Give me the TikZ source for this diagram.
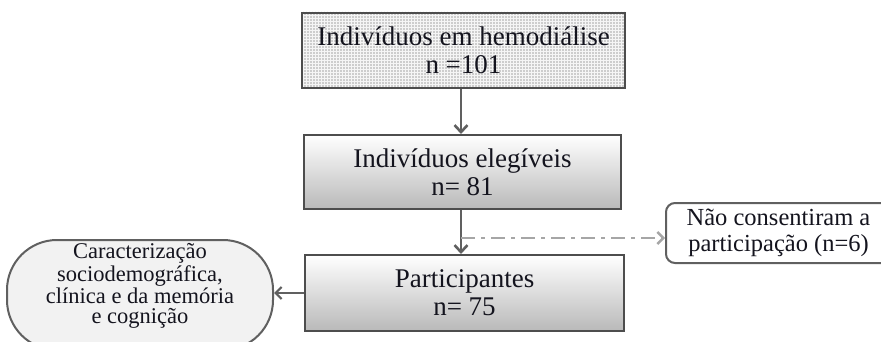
\documentclass[tikz,border=0pt]{standalone}
\usepackage{fontspec}
\setmainfont{Liberation Serif}
\usetikzlibrary{patterns,arrows.meta,shapes.misc}
\definecolor{lc}{RGB}{96,96,96}
\definecolor{txt}{RGB}{20,20,30}
\tikzset{
  x=1pt,y=-1pt,
  mainbox/.style={draw=lc!80!black,line width=2pt,minimum width=318pt,minimum height=74pt,
    align=center,inner sep=0pt,text=txt,font=\fontsize{27}{28}\selectfont},
  shadebox/.style={mainbox,top color=white,bottom color=gray!55},
  arr/.style={draw=lc,line width=2.6pt,-{Straight Barb[length=7pt,width=13pt]}},
  openarr/.style={draw=lc,line width=2.2pt,-{Straight Barb[length=6pt,width=12pt]}},
}
\begin{document}
\begin{tikzpicture}
\clip (0,0) rectangle (881,342);
\useasboundingbox (0,0) rectangle (881,342);
\fill[white] (0,0) rectangle (881,342);
% box 1
\node[mainbox,minimum width=323pt,minimum height=75pt,fill={rgb,255:red,205;green,205;blue,205}] (b1) at (463.5,50.5) {};
\fill[pattern=grid,pattern color=white!92!gray] (b1.south west) rectangle (b1.north east);
\node[mainbox,minimum width=323pt,minimum height=75pt] (b1t) at (463.5,50.5) {Indivíduos em hemodiálise\\n =101};
% box 2
\node[shadebox,minimum width=317pt] (b2) at (462.5,172) {Indivíduos elegíveis\\n= 81};
% box 3
\node[shadebox,minimum width=319pt,minimum height=76pt] (b3) at (464.5,293) {Participantes\\n= 75};
% right box (extends past the right edge)
\node[draw=lc,line width=2pt,rounded corners=9pt,fill=white,minimum width=225pt,minimum height=60pt,
  align=center,inner sep=0pt,text=txt,font=\fontsize{24.5}{26}\selectfont] (r) at (778.5,233) {Não consentiram a\\participação (n=6)};
% left stadium
\node[draw=lc,line width=2pt,rounded corners=50pt,fill=gray!10,minimum width=266pt,minimum height=110pt,
  align=center,inner sep=0pt,text=txt,font=\fontsize{22.5}{20.5}\selectfont] (s) at (140,295) {\strut Caracterização\\sociodemográfica,\\clínica e da memória\\e cognição\\[-4pt]\strut};
% connectors
\coordinate (j) at (461,238);
\draw[arr] (b1.south -| j) -- (b2.north -| j);
\draw[arr] (b2.south -| j) -- (b3.north -| j);
\draw[openarr,draw=gray!70,line width=2.4pt,dash pattern=on 14pt off 6pt on 4pt off 6pt] (j) -- (r.west |- j);
\draw[openarr] (b3.west) -- (s.east |- b3.west);
\end{tikzpicture}
\end{document}
